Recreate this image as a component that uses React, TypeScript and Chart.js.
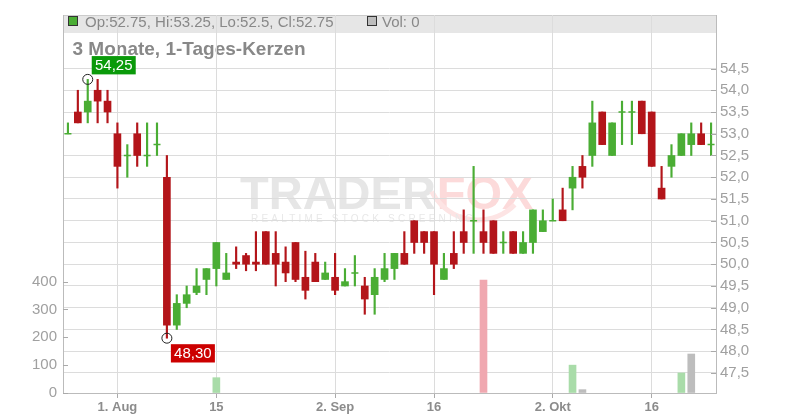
import React, { useEffect, useRef } from 'react';
import { Chart, registerables } from 'chart.js';

Chart.register(...registerables);

// ---------- data ----------
const categories = [
  '2024-07-25', '2024-07-26', '2024-07-29', '2024-07-30', '2024-07-31',
  '2024-08-01', '2024-08-02', '2024-08-05', '2024-08-06', '2024-08-07', '2024-08-08', '2024-08-09',
  '2024-08-12', '2024-08-13', '2024-08-14', '2024-08-15', '2024-08-16', '2024-08-19', '2024-08-20',
  '2024-08-21', '2024-08-22', '2024-08-23', '2024-08-26', '2024-08-27', '2024-08-28', '2024-08-29', '2024-08-30',
  '2024-09-02', '2024-09-03', '2024-09-04', '2024-09-05', '2024-09-06', '2024-09-09', '2024-09-10',
  '2024-09-11', '2024-09-12', '2024-09-13', '2024-09-16', '2024-09-17', '2024-09-18', '2024-09-19',
  '2024-09-20', '2024-09-23', '2024-09-24', '2024-09-25', '2024-09-26', '2024-09-27', '2024-09-30',
  '2024-10-01', '2024-10-02', '2024-10-03', '2024-10-04', '2024-10-07', '2024-10-08', '2024-10-09',
  '2024-10-10', '2024-10-11', '2024-10-14', '2024-10-15', '2024-10-16', '2024-10-17', '2024-10-18',
  '2024-10-21', '2024-10-22', '2024-10-23', '2024-10-24',
];

const openP = [
  53.0, 53.5, 53.5, 54.0, 53.75, 53.0, 52.5, 53.0, 52.5, 52.75,
  52.0, 48.6, 49.1, 49.35, 49.65, 49.9, 49.65, 50.05, 50.2, 50.05,
  50.75, 50.25, 50.05, 50.5, 49.7, 50.05, 49.65, 49.7, 49.5, 49.8,
  49.5, 49.3, 49.65, 49.9, 50.25, 51.0, 50.75, 50.75, 49.65, 50.25,
  50.75, 51.0, 50.75, 51.0, 50.5, 50.75, 50.25, 50.5, 50.75, 51.0,
  51.25, 51.75, 52.25, 52.5, 53.5, 52.5, 53.5, 53.5, 53.75, 53.5,
  51.75, 52.25, 52.5, 52.75, 53.0, 52.75,
];
const highP = [
  53.25, 54.0, 54.25, 54.25, 54.0, 53.25, 52.75, 53.25, 53.25, 53.25,
  52.5, 49.3, 49.5, 49.9, 49.9, 50.5, 50.25, 50.4, 50.25, 50.75,
  50.75, 50.75, 50.4, 50.5, 50.3, 50.25, 50.05, 50.25, 49.9, 50.2,
  49.7, 49.9, 50.25, 50.25, 50.75, 51.0, 50.75, 50.75, 50.25, 50.75,
  51.25, 52.25, 51.25, 51.0, 50.75, 50.75, 50.75, 51.25, 51.25, 51.5,
  51.75, 52.25, 52.5, 53.75, 53.5, 53.25, 53.75, 53.75, 53.75, 53.5,
  52.25, 52.75, 53.0, 53.25, 53.25, 53.25,
];
const lowP = [
  53.0, 53.25, 53.25, 53.25, 53.25, 51.75, 52.0, 52.25, 52.25, 52.5,
  48.3, 48.5, 49.0, 49.3, 49.3, 49.5, 49.65, 49.9, 49.85, 49.85,
  50.0, 49.5, 49.6, 49.6, 49.2, 49.6, 49.65, 49.3, 49.5, 49.5,
  48.85, 48.85, 49.6, 49.65, 50.0, 50.25, 50.25, 49.3, 49.65, 49.9,
  50.25, 50.25, 50.25, 50.25, 50.25, 50.25, 50.25, 50.25, 50.75, 51.0,
  51.0, 51.25, 51.75, 52.25, 52.75, 52.5, 52.75, 52.75, 53.0, 52.25,
  51.5, 52.0, 52.5, 52.5, 52.75, 52.5,
];
const closeP = [
  53.0, 53.25, 53.75, 53.75, 53.5, 52.25, 52.5, 52.5, 52.5, 52.75,
  48.6, 49.1, 49.3, 49.5, 49.9, 50.5, 49.8, 50.0, 50.0, 50.0,
  50.0, 50.0, 49.8, 49.65, 49.4, 49.6, 49.8, 49.4, 49.6, 49.8,
  49.2, 49.7, 49.9, 50.25, 50.0, 50.5, 50.5, 50.0, 49.9, 50.0,
  50.5, 51.0, 50.5, 50.25, 50.5, 50.25, 50.5, 51.25, 51.0, 51.0,
  51.0, 52.0, 52.0, 53.25, 52.75, 53.25, 53.5, 53.5, 53.0, 52.25,
  51.5, 52.5, 53.0, 53.0, 52.75, 52.75,
];
const volume = [
  0, 0, 0, 0, 0, 0, 0, 0, 0, 0,
  0, 0, 0, 0, 0, 55, 0, 0, 0, 0,
  0, 0, 0, 0, 0, 0, 0, 0, 0, 0,
  0, 0, 0, 0, 0, 0, 0, 0, 0, 0,
  0, 0, 405, 0, 0, 0, 0, 0, 0, 0,
  0, 100, 12, 0, 0, 0, 0, 0, 0, 0,
  0, 0, 72, 140, 0, 0,
];

const priceTicks = [47.5, 48.0, 48.5, 49.0, 49.5, 50.0, 50.5, 51.0, 51.5, 52.0, 52.5, 53.0, 53.5, 54.0, 54.5];
const volumeTicks = [0, 100, 200, 300, 400];
const xTickDates = ['2024-08-01', '2024-08-15', '2024-09-02', '2024-09-16', '2024-10-02', '2024-10-16'];
const xTickTexts = ['1. Aug', '15', '2. Sep', '16', '2. Okt', '16'];

const titleText = '3 Monate, 1-Tages-Kerzen';

// ---------- styles ----------
const FONT = '"Liberation Sans", Arial, Helvetica, sans-serif';
const GREEN = '#4aad34';
const RED = '#b3151a';
const VGREEN = '#a9dca9';
const VRED = '#f0a8b0';
const VGRAY = '#bdbdbd';
const GRID = '#dcdcdc';
const AXIS = '#bbbbbb';
const TICKTXT = '#a0a0a0';

export default function App() {
  const ref = useRef<HTMLCanvasElement>(null);

  useEffect(() => {
    document.body.style.margin = '0';
    const canvas = ref.current;
    if (!canvas) return;

    const candleColors = closeP.map((c, i) => (c >= openP[i] ? GREEN : RED));
    const volColors = closeP.map((c, i) =>
      i === 0 ? VGRAY : c > closeP[i - 1] ? VGREEN : c < closeP[i - 1] ? VRED : VGRAY
    );
    const labelAt = (i: number) => {
      const k = xTickDates.indexOf(categories[i]);
      return k >= 0 ? xTickTexts[k] : '';
    };
    const last = categories.length - 1;
    const fmtC = (v: string) => v.replace('.', ',');

    const decor = {
      id: 'decor',
      beforeDraw(chart: any) {
        const { ctx, chartArea: a } = chart;
        ctx.save();
        // watermark
        ctx.textBaseline = 'alphabetic';
        ctx.textAlign = 'left';
        ctx.font = `bold 47px ${FONT}`;
        ctx.fillStyle = '#e6e6e6';
        ctx.fillText('TRADER', 240, 209);
        const w = ctx.measureText('TRADER').width;
        ctx.fillStyle = '#fcdada';
        ctx.fillText('FOX', 240 + w + 1, 209);
        // fox swoosh
        ctx.strokeStyle = '#fde4e4';
        ctx.lineWidth = 5;
        ctx.beginPath();
        ctx.arc(478, 168, 52, Math.PI * 0.25, Math.PI * 0.85);
        ctx.stroke();
        ctx.font = `10px ${FONT}`;
        (ctx as any).letterSpacing = '3.2px';
        ctx.fillStyle = '#e8e8e8';
        ctx.fillText('REALTIME STOCK SCREENING', 251, 222);
        (ctx as any).letterSpacing = '0px';
        // header band
        ctx.fillStyle = '#e6e6e6';
        ctx.fillRect(a.left, a.top, a.right - a.left, 18);
        ctx.strokeStyle = '#cccccc';
        ctx.lineWidth = 1;
        ctx.beginPath();
        ctx.moveTo(a.left, a.top + 0.5);
        ctx.lineTo(a.right, a.top + 0.5);
        ctx.stroke();
        // legend boxes
        ctx.fillStyle = candleColors[last];
        ctx.fillRect(68.5, 16.5, 9, 9);
        ctx.strokeStyle = '#333';
        ctx.strokeRect(68.5, 16.5, 9, 9);
        ctx.fillStyle = volColors[last];
        ctx.fillRect(367.5, 16.5, 9, 9);
        ctx.strokeRect(367.5, 16.5, 9, 9);
        ctx.font = `15px ${FONT}`;
        ctx.fillStyle = '#888888';
        ctx.fillText(
          `Op:${openP[last]}, Hi:${highP[last]}, Lo:${lowP[last]}, Cl:${closeP[last]}`,
          85, 26.5
        );
        ctx.fillText(`Vol: ${volume[last]}`, 382, 26.5);
        // title
        ctx.font = `bold 19px ${FONT}`;
        ctx.fillStyle = '#888888';
        ctx.fillText(titleText, 72.5, 55);
        ctx.restore();
      },
      afterDraw(chart: any) {
        const { ctx } = chart;
        const yP = chart.scales.y;
        const yV = chart.scales.yv;
        ctx.save();
        ctx.strokeStyle = '#aaaaaa';
        ctx.lineWidth = 1;
        ctx.beginPath();
        priceTicks.forEach((v) => {
          const y = Math.round(yP.getPixelForValue(v)) + 0.5;
          ctx.moveTo(yP.left - 5, y);
          ctx.lineTo(yP.left, y);
        });
        volumeTicks.forEach((v) => {
          const y = Math.round(yV.getPixelForValue(v)) + 0.5;
          ctx.moveTo(yV.right, y);
          ctx.lineTo(yV.right + 5, y);
        });
        ctx.stroke();
        ctx.restore();
      },
      afterDatasetsDraw(chart: any) {
        const { ctx } = chart;
        const xs = chart.scales.x;
        const yP = chart.scales.y;
        let hi = 0;
        let lo = 0;
        highP.forEach((v, i) => { if (v > highP[hi]) hi = i; });
        lowP.forEach((v, i) => { if (v < lowP[lo]) lo = i; });
        const drawMark = (i: number, v: number, isHigh: boolean) => {
          const cx = xs.getPixelForValue(i);
          const cy = yP.getPixelForValue(v);
          ctx.save();
          ctx.strokeStyle = '#222';
          ctx.lineWidth = 1;
          ctx.beginPath();
          ctx.arc(cx, cy, 5, 0, Math.PI * 2);
          ctx.stroke();
          const bx = cx + 4;
          const by = isHigh ? cy - 23.3 : cy + 6;
          ctx.fillStyle = isHigh ? '#0a9a0a' : '#cc0000';
          ctx.fillRect(bx, by, 44, 18.3);
          ctx.fillStyle = '#ffffff';
          ctx.font = `15px ${FONT}`;
          ctx.textAlign = 'center';
          ctx.textBaseline = 'middle';
          ctx.fillText(fmtC(v.toFixed(2)), bx + 22, by + 9.6);
          ctx.restore();
        };
        drawMark(hi, highP[hi], true);
        drawMark(lo, lowP[lo], false);
      },
    };

    const chart = new Chart(canvas, {
      type: 'bar',
      data: {
        labels: categories,
        datasets: [
          {
            type: 'line',
            label: 'doji',
            data: openP.map((o, i) => (o === closeP[i] ? o : null)),
            yAxisID: 'y',
            showLine: false,
            pointStyle: 'line',
            pointRadius: 3.5,
            pointBorderWidth: 1.5,
            pointBorderColor: candleColors,
            pointBackgroundColor: candleColors,
            borderColor: candleColors,
            order: 0,
          } as any,
          {
            label: 'body',
            data: openP.map((o, i) => (o === closeP[i] ? null : [o, closeP[i]])) as any,
            yAxisID: 'y',
            backgroundColor: candleColors,
            barThickness: 7,
            grouped: false,
            order: 1,
          },
          {
            label: 'wick',
            data: lowP.map((l, i) => [l, highP[i]]) as any,
            yAxisID: 'y',
            backgroundColor: candleColors,
            barThickness: 1.5,
            grouped: false,
            order: 2,
          },
          {
            label: 'volume',
            data: volume.map((v) => (v > 0 ? v : null)),
            yAxisID: 'yv',
            backgroundColor: volColors,
            barThickness: 7,
            grouped: false,
            order: 3,
          },
        ],
      },
      options: {
        responsive: false,
        animation: false,
        devicePixelRatio: 1,
        layout: { padding: { top: 12, left: 0, right: 0, bottom: 0 } },
        plugins: { legend: { display: false }, tooltip: { enabled: false } },
        scales: {
          x: {
            type: 'category',
            offset: true,
            grid: {
              offset: false,
              color: (c: any) => (labelAt(c.index) ? GRID : 'rgba(0,0,0,0)'),
              tickColor: (c: any) => (labelAt(c.index) ? '#aaaaaa' : 'rgba(0,0,0,0)'),
              tickLength: 5,
              drawTicks: true,
            },
            border: { color: AXIS },
            ticks: {
              autoSkip: false,
              maxRotation: 0,
              padding: 2,
              color: '#8c8c8c',
              font: { family: FONT, size: 13, weight: 'bold' },
              callback: (_v: any, i: number) => labelAt(i),
            },
            afterFit: (s: any) => { s.height = 27; },
          },
          y: {
            position: 'right',
            min: 47.04,
            max: 55.73,
            grid: { color: GRID, drawTicks: false },
            border: { color: AXIS },
            afterBuildTicks: (s: any) => { s.ticks = priceTicks.map((v) => ({ value: v })); },
            ticks: {
              padding: 4,
              color: TICKTXT,
              font: { family: FONT, size: 15 },
              callback: (v: any) => Number(v).toFixed(1).replace('.', ','),
            },
            afterFit: (s: any) => { s.width = 84; },
          },
          yv: {
            position: 'left',
            min: 0,
            max: 1357,
            grid: { drawOnChartArea: false, drawTicks: false },
            border: { color: AXIS },
            afterBuildTicks: (s: any) => { s.ticks = volumeTicks.map((v) => ({ value: v })); },
            ticks: {
              padding: 6,
              color: TICKTXT,
              font: { family: FONT, size: 15 },
              callback: (v: any) => String(v),
            },
            afterFit: (s: any) => { s.width = 63; },
          },
        },
      } as any,
      plugins: [decor],
    });

    return () => chart.destroy();
  }, []);

  return (
    <div style={{ width: 800, height: 420 }}>
      <canvas ref={ref} width={800} height={420} style={{ display: 'block' }} />
    </div>
  );
}
